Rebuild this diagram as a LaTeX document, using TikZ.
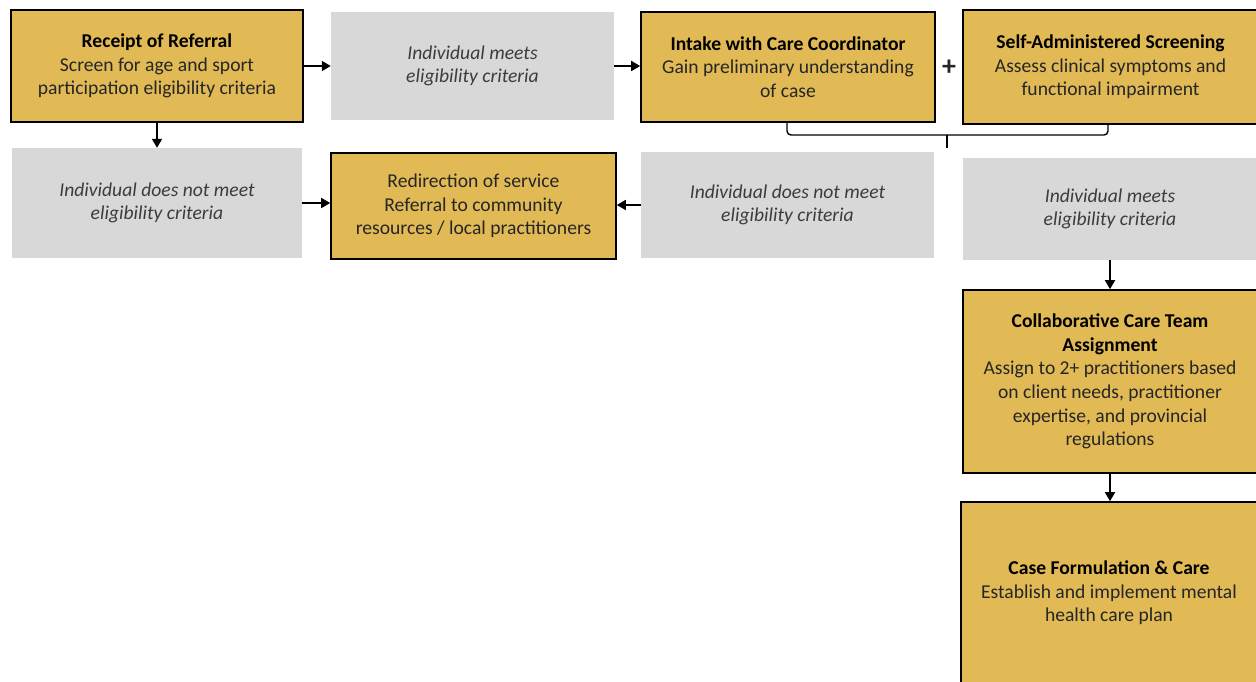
\documentclass[tikz,border=0pt]{standalone}
\usepackage{fontspec}
\setmainfont{Carlito}
\usetikzlibrary{arrows.meta}
\definecolor{goldfill}{HTML}{E1B955}
\definecolor{grayfill}{HTML}{D8D8D8}
\definecolor{txt}{HTML}{262626}
\tikzset{
  box/.style={inner sep=0pt, align=center, text=txt, font=\fontsize{19.6}{23.6}\selectfont},
  goldbox/.style={box, draw=black, line width=1.6pt, fill=goldfill},
  graybox/.style={box, fill=grayfill, font=\fontsize{19.6}{23.6}\selectfont\itshape, text=txt!90},
  arr/.style={-{Triangle[length=9pt,width=10pt]}, line width=1.7pt, black},
}
\begin{document}
\begin{tikzpicture}[x=1pt,y=-1pt]
\useasboundingbox (0,0) rectangle (1256,681);
\node[goldbox, minimum width=292pt, minimum height=112pt] (rec) at (157,66)
  {\textbf{\color{black}Receipt of Referral}\\Screen for age and sport\\participation eligibility criteria};
\node[graybox, minimum width=283pt, minimum height=108pt] (g1) at (472.5,66)
  {Individual meets\\eligibility criteria};
\node[goldbox, minimum width=294pt, minimum height=110pt] (intake) at (788,67)
  {\textbf{\color{black}Intake with Care Coordinator}\\Gain preliminary understanding\\of case};
\node[goldbox, minimum width=295pt, minimum height=114pt] (self) at (1110.5,67)
  {\textbf{\color{black}Self-Administered Screening}\\Assess clinical symptoms and\\functional impairment};
\node[box, font=\fontsize{28}{28}\selectfont\bfseries] (plus) at (949,68) {+};
\node[graybox, minimum width=290pt, minimum height=110pt] (gn1) at (157,203)
  {Individual does not meet\\eligibility criteria};
\node[goldbox, minimum width=285pt, minimum height=106pt] (redir) at (473.5,206)
  {Redirection of service\\Referral to community\\resources / local practitioners};
\node[graybox, minimum width=293pt, minimum height=106pt] (gn2) at (787.5,205)
  {Individual does not meet\\eligibility criteria};
\node[graybox, minimum width=294pt, minimum height=102pt] (gm2) at (1110,209)
  {Individual meets\\eligibility criteria};
\node[goldbox, minimum width=294pt, minimum height=183pt] (collab) at (1110,381.5)
  {\textbf{\color{black}Collaborative Care Team}\\\textbf{\color{black}Assignment}\\Assign to 2+ practitioners based\\on client needs, practitioner\\expertise, and provincial\\regulations};
\node[goldbox, minimum width=296pt, minimum height=182pt] (case) at (1109,593)
  {\textbf{\color{black}Case Formulation \& Care}\\Establish and implement mental\\health care plan};
% arrows
\draw[arr] (rec.east) -- (g1.west);
\draw[arr] (g1.east) -- (g1.east -| intake.west);
\draw[arr] (rec.south) -- (gn1.north);
\draw[arr] (gn1.east) -- (gn1.east -| redir.west);
\draw[arr] (gn2.west) -- (gn2.west -| redir.east);
\draw[arr] (gm2.south) -- (gm2.south |- collab.north);
\draw[arr] (collab.south) -- (collab.south |- case.north);
% bracket
\coordinate (bl) at (787,123);
\coordinate (br) at (1108,125);
\coordinate (bm) at (947,135);
\coordinate (bt) at (947,148);
\draw[line width=1.4pt, rounded corners=4pt] (bl) -- (787,135) -- (1108,135) -- (br);
\draw[line width=1.4pt] (bm) -- (bt);
\end{tikzpicture}
\end{document}
